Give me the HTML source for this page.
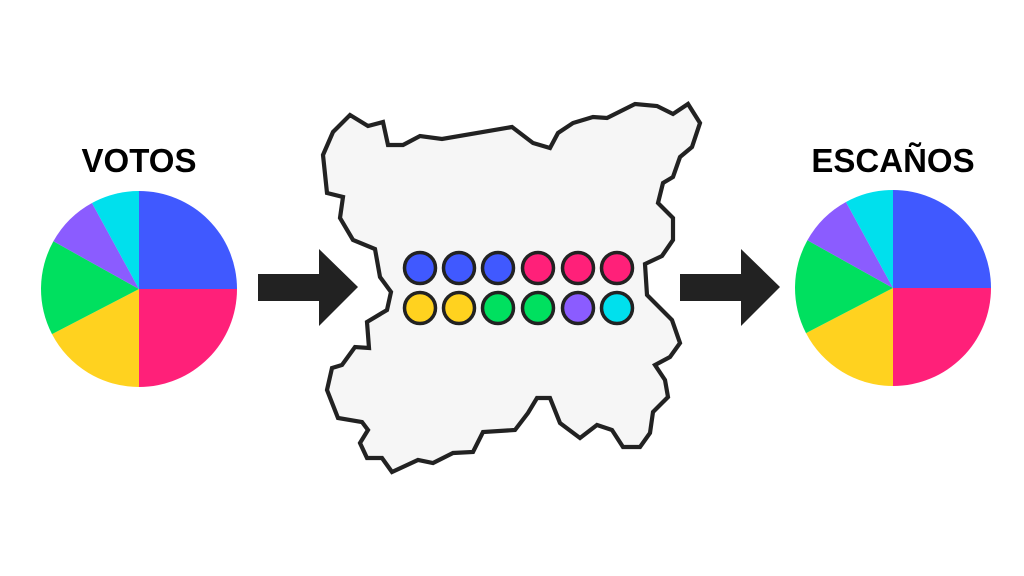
<!DOCTYPE html>
<html><head><meta charset="utf-8"><style>
html,body{margin:0;padding:0;background:#fff;width:1024px;height:576px;overflow:hidden}
</style></head><body>
<svg width="1024" height="576" viewBox="0 0 1024 576" xmlns="http://www.w3.org/2000/svg">
<rect width="1024" height="576" fill="#fff"/>
<text x="139" y="172" text-anchor="middle" font-family="Liberation Sans, sans-serif" font-weight="bold" font-size="33" fill="#000">VOTOS</text>
<text x="893" y="172" text-anchor="middle" font-family="Liberation Sans, sans-serif" font-weight="bold" font-size="33" fill="#000">ESCAÑOS</text>
<g id="pie" transform="translate(139,289)">
<path d="M0,0 L0,-98 A98,98 0 0 1 98,0 Z" fill="#4059ff"/>
<path d="M0,0 L98,0 A98,98 0 0 1 0,98 Z" fill="#ff2079"/>
<path d="M0,0 L0,98 A98,98 0 0 1 -87.0,45.1 Z" fill="#ffd21f"/>
<path d="M0,0 L-87.0,45.1 A98,98 0 0 1 -85.6,-47.7 Z" fill="#00e05f"/>
<path d="M0,0 L-85.6,-47.7 A98,98 0 0 1 -47.0,-86.0 Z" fill="#8b5cff"/>
<path d="M0,0 L-47.0,-86.0 A98,98 0 0 1 0,-98 Z" fill="#00e0ed"/>
</g>
<use href="#pie" transform="translate(754,-1)"/>
<polygon points="258,274 319,274 319,249 358,287 319,326 319,301 258,301" fill="#222"/>
<polygon points="680,274 741,274 741,249 780,287 741,326 741,301 680,301" fill="#222"/>
<polygon fill="#f6f6f6" stroke="#222" stroke-width="4.2" stroke-linejoin="miter" points="350,115 368,126 383,122 388,145 403,145 420,136 442,139 512,127 533,143 550,148 558,133 573,123 593,117 607,118 635,104 657,106 673,114 688,104 700,123 692,147 680,157 673,177 663,183 658,203 673,218 673,240 662,256 645,264 647,295 672,320 680,343 670,357 655,365 665,380 668,397 653,412 650,433 640,447 623,447 612,430 597,425 580,438 560,423 550,398 537,398 528,413 515,430 483,432 473,452 453,453 433,463 418,460 392,472 382,458 367,458 360,443 368,430 362,422 338,418 327,390 332,368 342,365 355,347 369,348 367,322 387,310 391,292 380,277 375,249 353,240 340,218 343,197 327,193 323,155 333,132"/>
<g stroke="#222" stroke-width="3.5">
<circle cx="420" cy="268" r="15.5" fill="#4059ff"/>
<circle cx="459" cy="268" r="15.5" fill="#4059ff"/>
<circle cx="498" cy="268" r="15.5" fill="#4059ff"/>
<circle cx="538" cy="268" r="15.5" fill="#ff2079"/>
<circle cx="578" cy="268" r="15.5" fill="#ff2079"/>
<circle cx="617" cy="268" r="15.5" fill="#ff2079"/>
<circle cx="420" cy="308" r="15.5" fill="#ffd21f"/>
<circle cx="459" cy="308" r="15.5" fill="#ffd21f"/>
<circle cx="498" cy="308" r="15.5" fill="#00e05f"/>
<circle cx="538" cy="308" r="15.5" fill="#00e05f"/>
<circle cx="578" cy="308" r="15.5" fill="#8b5cff"/>
<circle cx="617" cy="308" r="15.5" fill="#00e0ed"/>
</g>
</svg>
</body></html>
